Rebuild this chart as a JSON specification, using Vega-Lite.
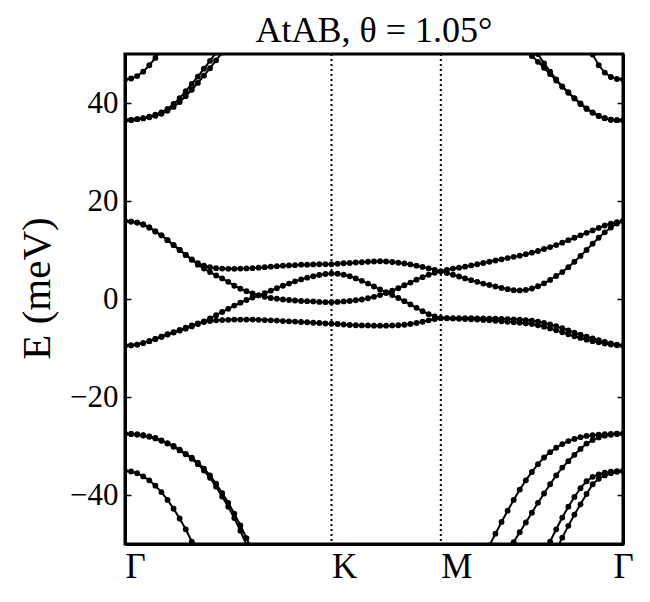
{
"$schema": "https://vega.github.io/schema/vega-lite/v6.json",
"width": 498, "height": 490,
"autosize": {"type": "none"},
"padding": {"left": 125, "top": 54, "right": 27, "bottom": 58},
"background": "white",
"view": {"stroke": "black", "strokeWidth": 3},
"title": {"text": "AtAB, θ = 1.05°", "font": "Liberation Serif", "fontSize": 36, "fontWeight": "normal", "color": "black", "anchor": "middle", "offset": 3},
"config": {"view": {"stroke": "black", "strokeWidth": 3}, "font": "Liberation Serif"},
"datasets": {
"kpts": [{"k": 0, "lab": "Γ"}, {"k": 34, "lab": "K"}, {"k": 52, "lab": "M"}, {"k": 82, "lab": "Γ"}],
"bands": [
{"b":"c1","k":0,"E":15.9},{"b":"c1","k":1,"E":15.8},{"b":"c1","k":2,"E":15.6},{"b":"c1","k":3,"E":15.2},{"b":"c1","k":4,"E":14.6},{"b":"c1","k":5,"E":13.8},{"b":"c1","k":6,"E":13.0},{"b":"c1","k":7,"E":12.0},{"b":"c1","k":8,"E":11.0},{"b":"c1","k":9,"E":10.0},{"b":"c1","k":10,"E":9.0},{"b":"c1","k":11,"E":8.1},{"b":"c1","k":12,"E":7.3},{"b":"c1","k":13,"E":6.8},{"b":"c1","k":14,"E":6.5},{"b":"c1","k":15,"E":6.3},{"b":"c1","k":16,"E":6.2},{"b":"c1","k":17,"E":6.15},{"b":"c1","k":18,"E":6.15},{"b":"c1","k":19,"E":6.2},{"b":"c1","k":20,"E":6.25},{"b":"c1","k":21,"E":6.3},{"b":"c1","k":22,"E":6.4},{"b":"c1","k":23,"E":6.5},{"b":"c1","k":24,"E":6.6},{"b":"c1","k":25,"E":6.7},{"b":"c1","k":26,"E":6.8},{"b":"c1","k":27,"E":6.85},{"b":"c1","k":28,"E":6.9},{"b":"c1","k":29,"E":7.0},{"b":"c1","k":30,"E":7.0},{"b":"c1","k":31,"E":7.05},{"b":"c1","k":32,"E":7.1},{"b":"c1","k":33,"E":7.1},{"b":"c1","k":34,"E":7.1},
{"b":"c1","k":35,"E":7.2},{"b":"c1","k":36,"E":7.3},{"b":"c1","k":37,"E":7.35},{"b":"c1","k":38,"E":7.45},{"b":"c1","k":39,"E":7.5},{"b":"c1","k":40,"E":7.6},{"b":"c1","k":41,"E":7.65},{"b":"c1","k":42,"E":7.7},{"b":"c1","k":43,"E":7.65},{"b":"c1","k":44,"E":7.55},{"b":"c1","k":45,"E":7.4},{"b":"c1","k":46,"E":7.25},{"b":"c1","k":47,"E":7.05},{"b":"c1","k":48,"E":6.8},{"b":"c1","k":49,"E":6.55},{"b":"c1","k":50,"E":6.25},{"b":"c1","k":51,"E":5.95},{"b":"c1","k":52,"E":5.65},
{"b":"c1","k":53,"E":5.3},{"b":"c1","k":54,"E":4.95},{"b":"c1","k":55,"E":4.6},{"b":"c1","k":56,"E":4.2},{"b":"c1","k":57,"E":3.85},{"b":"c1","k":58,"E":3.5},{"b":"c1","k":59,"E":3.15},{"b":"c1","k":60,"E":2.85},{"b":"c1","k":61,"E":2.55},{"b":"c1","k":62,"E":2.25},{"b":"c1","k":63,"E":2.0},{"b":"c1","k":64,"E":1.8},{"b":"c1","k":65,"E":1.75},{"b":"c1","k":66,"E":1.85},{"b":"c1","k":67,"E":2.15},{"b":"c1","k":68,"E":2.6},{"b":"c1","k":69,"E":3.2},{"b":"c1","k":70,"E":3.9},{"b":"c1","k":71,"E":4.7},{"b":"c1","k":72,"E":5.5},{"b":"c1","k":73,"E":6.5},{"b":"c1","k":74,"E":7.6},{"b":"c1","k":75,"E":8.8},{"b":"c1","k":76,"E":10.0},{"b":"c1","k":77,"E":11.3},{"b":"c1","k":78,"E":12.5},{"b":"c1","k":79,"E":13.6},{"b":"c1","k":80,"E":14.6},{"b":"c1","k":81,"E":15.4},{"b":"c1","k":82,"E":15.9},
{"b":"c2","k":0,"E":15.9},{"b":"c2","k":1,"E":15.8},{"b":"c2","k":2,"E":15.6},{"b":"c2","k":3,"E":15.2},{"b":"c2","k":4,"E":14.6},{"b":"c2","k":5,"E":13.8},{"b":"c2","k":6,"E":13.0},{"b":"c2","k":7,"E":12.0},{"b":"c2","k":8,"E":11.0},{"b":"c2","k":9,"E":10.0},{"b":"c2","k":10,"E":9.0},{"b":"c2","k":11,"E":8.0},{"b":"c2","k":12,"E":7.0},{"b":"c2","k":13,"E":6.2},{"b":"c2","k":14,"E":5.5},{"b":"c2","k":15,"E":4.8},{"b":"c2","k":16,"E":4.2},{"b":"c2","k":17,"E":3.5},{"b":"c2","k":18,"E":2.7},{"b":"c2","k":19,"E":2.1},{"b":"c2","k":20,"E":1.6},{"b":"c2","k":21,"E":1.15},{"b":"c2","k":22,"E":0.75},{"b":"c2","k":23,"E":0.45},{"b":"c2","k":24,"E":0.2},{"b":"c2","k":25,"E":0.05},{"b":"c2","k":26,"E":-0.1},{"b":"c2","k":27,"E":-0.2},{"b":"c2","k":28,"E":-0.3},{"b":"c2","k":29,"E":-0.4},{"b":"c2","k":30,"E":-0.45},{"b":"c2","k":31,"E":-0.5},{"b":"c2","k":32,"E":-0.6},{"b":"c2","k":33,"E":-0.65},{"b":"c2","k":34,"E":-0.65},
{"b":"c2","k":35,"E":-0.6},{"b":"c2","k":36,"E":-0.5},{"b":"c2","k":37,"E":-0.4},{"b":"c2","k":38,"E":-0.25},{"b":"c2","k":39,"E":-0.1},{"b":"c2","k":40,"E":0.15},{"b":"c2","k":41,"E":0.45},{"b":"c2","k":42,"E":0.8},{"b":"c2","k":43,"E":1.2},{"b":"c2","k":44,"E":1.7},{"b":"c2","k":45,"E":2.2},{"b":"c2","k":46,"E":2.8},{"b":"c2","k":47,"E":3.35},{"b":"c2","k":48,"E":3.95},{"b":"c2","k":49,"E":4.45},{"b":"c2","k":50,"E":4.95},{"b":"c2","k":51,"E":5.35},{"b":"c2","k":52,"E":5.65},
{"b":"c2","k":53,"E":5.95},{"b":"c2","k":54,"E":6.2},{"b":"c2","k":55,"E":6.4},{"b":"c2","k":56,"E":6.6},{"b":"c2","k":57,"E":6.85},{"b":"c2","k":58,"E":7.1},{"b":"c2","k":59,"E":7.35},{"b":"c2","k":60,"E":7.6},{"b":"c2","k":61,"E":7.85},{"b":"c2","k":62,"E":8.1},{"b":"c2","k":63,"E":8.35},{"b":"c2","k":64,"E":8.6},{"b":"c2","k":65,"E":8.85},{"b":"c2","k":66,"E":9.15},{"b":"c2","k":67,"E":9.45},{"b":"c2","k":68,"E":9.8},{"b":"c2","k":69,"E":10.2},{"b":"c2","k":70,"E":10.6},{"b":"c2","k":71,"E":11.0},{"b":"c2","k":72,"E":11.5},{"b":"c2","k":73,"E":12.0},{"b":"c2","k":74,"E":12.5},{"b":"c2","k":75,"E":13.0},{"b":"c2","k":76,"E":13.5},{"b":"c2","k":77,"E":14.0},{"b":"c2","k":78,"E":14.5},{"b":"c2","k":79,"E":15.0},{"b":"c2","k":80,"E":15.4},{"b":"c2","k":81,"E":15.7},{"b":"c2","k":82,"E":15.9},
{"b":"c3","k":0,"E":-9.5},{"b":"c3","k":1,"E":-9.45},{"b":"c3","k":2,"E":-9.3},{"b":"c3","k":3,"E":-9.0},{"b":"c3","k":4,"E":-8.6},{"b":"c3","k":5,"E":-8.15},{"b":"c3","k":6,"E":-7.7},{"b":"c3","k":7,"E":-7.25},{"b":"c3","k":8,"E":-6.85},{"b":"c3","k":9,"E":-6.45},{"b":"c3","k":10,"E":-6.05},{"b":"c3","k":11,"E":-5.6},{"b":"c3","k":12,"E":-5.1},{"b":"c3","k":13,"E":-4.55},{"b":"c3","k":14,"E":-3.95},{"b":"c3","k":15,"E":-3.3},{"b":"c3","k":16,"E":-2.65},{"b":"c3","k":17,"E":-2.0},{"b":"c3","k":18,"E":-1.35},{"b":"c3","k":19,"E":-0.75},{"b":"c3","k":20,"E":-0.2},{"b":"c3","k":21,"E":0.3},{"b":"c3","k":22,"E":0.75},{"b":"c3","k":23,"E":1.2},{"b":"c3","k":24,"E":1.7},{"b":"c3","k":25,"E":2.2},{"b":"c3","k":26,"E":2.7},{"b":"c3","k":27,"E":3.15},{"b":"c3","k":28,"E":3.6},{"b":"c3","k":29,"E":4.0},{"b":"c3","k":30,"E":4.35},{"b":"c3","k":31,"E":4.65},{"b":"c3","k":32,"E":4.9},{"b":"c3","k":33,"E":5.1},{"b":"c3","k":34,"E":5.2},
{"b":"c3","k":35,"E":5.15},{"b":"c3","k":36,"E":4.95},{"b":"c3","k":37,"E":4.65},{"b":"c3","k":38,"E":4.2},{"b":"c3","k":39,"E":3.7},{"b":"c3","k":40,"E":3.15},{"b":"c3","k":41,"E":2.55},{"b":"c3","k":42,"E":1.95},{"b":"c3","k":43,"E":1.4},{"b":"c3","k":44,"E":0.8},{"b":"c3","k":45,"E":0.2},{"b":"c3","k":46,"E":-0.45},{"b":"c3","k":47,"E":-1.1},{"b":"c3","k":48,"E":-1.8},{"b":"c3","k":49,"E":-2.5},{"b":"c3","k":50,"E":-3.1},{"b":"c3","k":51,"E":-3.55},{"b":"c3","k":52,"E":-3.9},
{"b":"c3","k":53,"E":-3.9},{"b":"c3","k":54,"E":-3.9},{"b":"c3","k":55,"E":-3.9},{"b":"c3","k":56,"E":-3.9},{"b":"c3","k":57,"E":-3.9},{"b":"c3","k":58,"E":-3.95},{"b":"c3","k":59,"E":-3.95},{"b":"c3","k":60,"E":-4.0},{"b":"c3","k":61,"E":-4.0},{"b":"c3","k":62,"E":-4.05},{"b":"c3","k":63,"E":-4.1},{"b":"c3","k":64,"E":-4.15},{"b":"c3","k":65,"E":-4.2},{"b":"c3","k":66,"E":-4.3},{"b":"c3","k":67,"E":-4.4},{"b":"c3","k":68,"E":-4.6},{"b":"c3","k":69,"E":-4.9},{"b":"c3","k":70,"E":-5.2},{"b":"c3","k":71,"E":-5.55},{"b":"c3","k":72,"E":-5.95},{"b":"c3","k":73,"E":-6.4},{"b":"c3","k":74,"E":-6.85},{"b":"c3","k":75,"E":-7.3},{"b":"c3","k":76,"E":-7.7},{"b":"c3","k":77,"E":-8.05},{"b":"c3","k":78,"E":-8.4},{"b":"c3","k":79,"E":-8.75},{"b":"c3","k":80,"E":-9.05},{"b":"c3","k":81,"E":-9.3},{"b":"c3","k":82,"E":-9.5},
{"b":"c4","k":0,"E":-9.5},{"b":"c4","k":1,"E":-9.45},{"b":"c4","k":2,"E":-9.3},{"b":"c4","k":3,"E":-9.0},{"b":"c4","k":4,"E":-8.6},{"b":"c4","k":5,"E":-8.15},{"b":"c4","k":6,"E":-7.7},{"b":"c4","k":7,"E":-7.2},{"b":"c4","k":8,"E":-6.75},{"b":"c4","k":9,"E":-6.3},{"b":"c4","k":10,"E":-5.85},{"b":"c4","k":11,"E":-5.4},{"b":"c4","k":12,"E":-5.0},{"b":"c4","k":13,"E":-4.7},{"b":"c4","k":14,"E":-4.5},{"b":"c4","k":15,"E":-4.35},{"b":"c4","k":16,"E":-4.3},{"b":"c4","k":17,"E":-4.25},{"b":"c4","k":18,"E":-4.2},{"b":"c4","k":19,"E":-4.2},{"b":"c4","k":20,"E":-4.2},{"b":"c4","k":21,"E":-4.2},{"b":"c4","k":22,"E":-4.25},{"b":"c4","k":23,"E":-4.3},{"b":"c4","k":24,"E":-4.35},{"b":"c4","k":25,"E":-4.4},{"b":"c4","k":26,"E":-4.5},{"b":"c4","k":27,"E":-4.55},{"b":"c4","k":28,"E":-4.6},{"b":"c4","k":29,"E":-4.7},{"b":"c4","k":30,"E":-4.75},{"b":"c4","k":31,"E":-4.85},{"b":"c4","k":32,"E":-4.9},{"b":"c4","k":33,"E":-5.0},{"b":"c4","k":34,"E":-5.05},
{"b":"c4","k":35,"E":-5.1},{"b":"c4","k":36,"E":-5.2},{"b":"c4","k":37,"E":-5.3},{"b":"c4","k":38,"E":-5.35},{"b":"c4","k":39,"E":-5.4},{"b":"c4","k":40,"E":-5.4},{"b":"c4","k":41,"E":-5.45},{"b":"c4","k":42,"E":-5.45},{"b":"c4","k":43,"E":-5.45},{"b":"c4","k":44,"E":-5.4},{"b":"c4","k":45,"E":-5.35},{"b":"c4","k":46,"E":-5.25},{"b":"c4","k":47,"E":-5.1},{"b":"c4","k":48,"E":-4.9},{"b":"c4","k":49,"E":-4.65},{"b":"c4","k":50,"E":-4.35},{"b":"c4","k":51,"E":-4.1},{"b":"c4","k":52,"E":-3.9},
{"b":"c4","k":53,"E":-3.95},{"b":"c4","k":54,"E":-4.0},{"b":"c4","k":55,"E":-4.05},{"b":"c4","k":56,"E":-4.1},{"b":"c4","k":57,"E":-4.15},{"b":"c4","k":58,"E":-4.2},{"b":"c4","k":59,"E":-4.3},{"b":"c4","k":60,"E":-4.35},{"b":"c4","k":61,"E":-4.45},{"b":"c4","k":62,"E":-4.55},{"b":"c4","k":63,"E":-4.65},{"b":"c4","k":64,"E":-4.75},{"b":"c4","k":65,"E":-4.85},{"b":"c4","k":66,"E":-4.95},{"b":"c4","k":67,"E":-5.1},{"b":"c4","k":68,"E":-5.35},{"b":"c4","k":69,"E":-5.65},{"b":"c4","k":70,"E":-6.0},{"b":"c4","k":71,"E":-6.4},{"b":"c4","k":72,"E":-6.8},{"b":"c4","k":73,"E":-7.2},{"b":"c4","k":74,"E":-7.6},{"b":"c4","k":75,"E":-7.95},{"b":"c4","k":76,"E":-8.3},{"b":"c4","k":77,"E":-8.6},{"b":"c4","k":78,"E":-8.85},{"b":"c4","k":79,"E":-9.1},{"b":"c4","k":80,"E":-9.3},{"b":"c4","k":81,"E":-9.45},{"b":"c4","k":82,"E":-9.5},
{"b":"u1a","k":0,"E":36.5},{"b":"u1a","k":1,"E":36.55},{"b":"u1a","k":2,"E":36.7},{"b":"u1a","k":3,"E":36.9},{"b":"u1a","k":4,"E":37.2},{"b":"u1a","k":5,"E":37.6},{"b":"u1a","k":6,"E":38.1},{"b":"u1a","k":7,"E":38.8},{"b":"u1a","k":8,"E":39.8},{"b":"u1a","k":9,"E":41.0},{"b":"u1a","k":10,"E":42.4},{"b":"u1a","k":11,"E":43.9},{"b":"u1a","k":12,"E":45.4},{"b":"u1a","k":13,"E":47.0},{"b":"u1a","k":14,"E":48.6},{"b":"u1a","k":15,"E":50.3},{"b":"u1a","k":16,"E":52.0},
{"b":"u1b","k":0,"E":36.5},{"b":"u1b","k":1,"E":36.55},{"b":"u1b","k":2,"E":36.7},{"b":"u1b","k":3,"E":36.85},{"b":"u1b","k":4,"E":37.1},{"b":"u1b","k":5,"E":37.4},{"b":"u1b","k":6,"E":37.8},{"b":"u1b","k":7,"E":38.4},{"b":"u1b","k":8,"E":39.2},{"b":"u1b","k":9,"E":40.2},{"b":"u1b","k":10,"E":41.4},{"b":"u1b","k":11,"E":42.7},{"b":"u1b","k":12,"E":44.1},{"b":"u1b","k":13,"E":45.6},{"b":"u1b","k":14,"E":47.1},{"b":"u1b","k":15,"E":48.7},{"b":"u1b","k":16,"E":50.3},{"b":"u1b","k":17,"E":52.0},
{"b":"u2l","k":0,"E":44.8},{"b":"u2l","k":1,"E":45.0},{"b":"u2l","k":2,"E":45.5},{"b":"u2l","k":3,"E":46.4},{"b":"u2l","k":4,"E":47.7},{"b":"u2l","k":5,"E":49.2},{"b":"u2l","k":6,"E":50.8},
{"b":"u1c","k":67,"E":51.9},{"b":"u1c","k":68,"E":50.0},{"b":"u1c","k":69,"E":48.1},{"b":"u1c","k":70,"E":46.4},{"b":"u1c","k":71,"E":44.8},{"b":"u1c","k":72,"E":43.4},{"b":"u1c","k":73,"E":42.2},{"b":"u1c","k":74,"E":41.0},{"b":"u1c","k":75,"E":39.9},{"b":"u1c","k":76,"E":38.9},{"b":"u1c","k":77,"E":38.1},{"b":"u1c","k":78,"E":37.4},{"b":"u1c","k":79,"E":36.9},{"b":"u1c","k":80,"E":36.6},{"b":"u1c","k":81,"E":36.5},{"b":"u1c","k":82,"E":36.5},
{"b":"u1d","k":66,"E":50.8},{"b":"u1d","k":67,"E":49.6},{"b":"u1d","k":68,"E":48.4},{"b":"u1d","k":69,"E":47.2},{"b":"u1d","k":70,"E":45.9},{"b":"u1d","k":71,"E":44.6},{"b":"u1d","k":72,"E":43.3},{"b":"u1d","k":73,"E":42.1},{"b":"u1d","k":74,"E":40.9},{"b":"u1d","k":75,"E":39.8},{"b":"u1d","k":76,"E":38.8},{"b":"u1d","k":77,"E":38.0},{"b":"u1d","k":78,"E":37.35},{"b":"u1d","k":79,"E":36.9},{"b":"u1d","k":80,"E":36.6},{"b":"u1d","k":81,"E":36.5},{"b":"u1d","k":82,"E":36.5},
{"b":"u2r","k":76,"E":52.0},{"b":"u2r","k":77,"E":49.9},{"b":"u2r","k":78,"E":47.7},{"b":"u2r","k":79,"E":46.2},{"b":"u2r","k":80,"E":45.3},{"b":"u2r","k":81,"E":44.9},{"b":"u2r","k":82,"E":44.8},
{"b":"l1a","k":0,"E":-27.5},{"b":"l1a","k":1,"E":-27.55},{"b":"l1a","k":2,"E":-27.65},{"b":"l1a","k":3,"E":-27.85},{"b":"l1a","k":4,"E":-28.1},{"b":"l1a","k":5,"E":-28.45},{"b":"l1a","k":6,"E":-28.95},{"b":"l1a","k":7,"E":-29.5},{"b":"l1a","k":8,"E":-30.15},{"b":"l1a","k":9,"E":-30.9},{"b":"l1a","k":10,"E":-31.7},{"b":"l1a","k":11,"E":-32.6},{"b":"l1a","k":12,"E":-33.7},{"b":"l1a","k":13,"E":-35.0},{"b":"l1a","k":14,"E":-36.5},{"b":"l1a","k":15,"E":-38.3},{"b":"l1a","k":16,"E":-40.3},{"b":"l1a","k":17,"E":-42.4},{"b":"l1a","k":18,"E":-44.7},{"b":"l1a","k":19,"E":-47.3},{"b":"l1a","k":20,"E":-50.2},{"b":"l1a","k":21,"E":-53.0},
{"b":"l1b","k":0,"E":-27.5},{"b":"l1b","k":1,"E":-27.55},{"b":"l1b","k":2,"E":-27.65},{"b":"l1b","k":3,"E":-27.8},{"b":"l1b","k":4,"E":-28.05},{"b":"l1b","k":5,"E":-28.35},{"b":"l1b","k":6,"E":-28.85},{"b":"l1b","k":7,"E":-29.4},{"b":"l1b","k":8,"E":-30.0},{"b":"l1b","k":9,"E":-30.75},{"b":"l1b","k":10,"E":-31.6},{"b":"l1b","k":11,"E":-32.4},{"b":"l1b","k":12,"E":-33.4},{"b":"l1b","k":13,"E":-34.6},{"b":"l1b","k":14,"E":-36.0},{"b":"l1b","k":15,"E":-37.7},{"b":"l1b","k":16,"E":-39.6},{"b":"l1b","k":17,"E":-41.6},{"b":"l1b","k":18,"E":-43.8},{"b":"l1b","k":19,"E":-46.2},{"b":"l1b","k":20,"E":-48.8},{"b":"l1b","k":21,"E":-51.5},
{"b":"l2l","k":0,"E":-35.1},{"b":"l2l","k":1,"E":-35.2},{"b":"l2l","k":2,"E":-35.55},{"b":"l2l","k":3,"E":-36.2},{"b":"l2l","k":4,"E":-37.0},{"b":"l2l","k":5,"E":-38.1},{"b":"l2l","k":6,"E":-39.4},{"b":"l2l","k":7,"E":-41.0},{"b":"l2l","k":8,"E":-42.8},{"b":"l2l","k":9,"E":-44.8},{"b":"l2l","k":10,"E":-47.0},{"b":"l2l","k":11,"E":-49.5},{"b":"l2l","k":12,"E":-52.2},
{"b":"l1c","k":59,"E":-52.8},{"b":"l1c","k":60,"E":-50.3},{"b":"l1c","k":61,"E":-47.9},{"b":"l1c","k":62,"E":-45.5},{"b":"l1c","k":63,"E":-43.2},{"b":"l1c","k":64,"E":-41.0},{"b":"l1c","k":65,"E":-38.9},{"b":"l1c","k":66,"E":-37.0},{"b":"l1c","k":67,"E":-35.3},{"b":"l1c","k":68,"E":-33.7},{"b":"l1c","k":69,"E":-32.35},{"b":"l1c","k":70,"E":-31.25},{"b":"l1c","k":71,"E":-30.35},{"b":"l1c","k":72,"E":-29.6},{"b":"l1c","k":73,"E":-29.0},{"b":"l1c","k":74,"E":-28.55},{"b":"l1c","k":75,"E":-28.2},{"b":"l1c","k":76,"E":-27.95},{"b":"l1c","k":77,"E":-27.8},{"b":"l1c","k":78,"E":-27.7},{"b":"l1c","k":79,"E":-27.6},{"b":"l1c","k":80,"E":-27.55},{"b":"l1c","k":81,"E":-27.5},{"b":"l1c","k":82,"E":-27.5},
{"b":"l1d","k":63,"E":-51.6},{"b":"l1d","k":64,"E":-49.6},{"b":"l1d","k":65,"E":-47.6},{"b":"l1d","k":66,"E":-45.6},{"b":"l1d","k":67,"E":-43.6},{"b":"l1d","k":68,"E":-41.6},{"b":"l1d","k":69,"E":-39.7},{"b":"l1d","k":70,"E":-37.8},{"b":"l1d","k":71,"E":-36.0},{"b":"l1d","k":72,"E":-34.4},{"b":"l1d","k":73,"E":-33.1},{"b":"l1d","k":74,"E":-31.8},{"b":"l1d","k":75,"E":-30.6},{"b":"l1d","k":76,"E":-29.5},{"b":"l1d","k":77,"E":-28.8},{"b":"l1d","k":78,"E":-28.25},{"b":"l1d","k":79,"E":-27.9},{"b":"l1d","k":80,"E":-27.7},{"b":"l1d","k":81,"E":-27.55},{"b":"l1d","k":82,"E":-27.5},
{"b":"l2c","k":69,"E":-52.0},{"b":"l2c","k":70,"E":-49.5},{"b":"l2c","k":71,"E":-47.0},{"b":"l2c","k":72,"E":-44.6},{"b":"l2c","k":73,"E":-42.4},{"b":"l2c","k":74,"E":-40.4},{"b":"l2c","k":75,"E":-38.6},{"b":"l2c","k":76,"E":-37.2},{"b":"l2c","k":77,"E":-36.3},{"b":"l2c","k":78,"E":-35.8},{"b":"l2c","k":79,"E":-35.45},{"b":"l2c","k":80,"E":-35.25},{"b":"l2c","k":81,"E":-35.15},{"b":"l2c","k":82,"E":-35.1},
{"b":"l2d","k":71,"E":-51.2},{"b":"l2d","k":72,"E":-48.7},{"b":"l2d","k":73,"E":-46.3},{"b":"l2d","k":74,"E":-44.0},{"b":"l2d","k":75,"E":-41.9},{"b":"l2d","k":76,"E":-39.8},{"b":"l2d","k":77,"E":-37.8},{"b":"l2d","k":78,"E":-36.7},{"b":"l2d","k":79,"E":-36.0},{"b":"l2d","k":80,"E":-35.55},{"b":"l2d","k":81,"E":-35.25},{"b":"l2d","k":82,"E":-35.1}
]
},
"layer": [
{"data": {"name": "kpts"},
 "mark": {"type": "rule", "color": "black", "strokeWidth": 2, "strokeDash": [2, 3]},
 "encoding": {"x": {"field": "k", "type": "quantitative", "scale": {"domain": [0, 82], "nice": false, "zero": false},
   "axis": {"values": [0, 34, 52, 82], "labelExpr": "datum.value == 34 ? 'K' : datum.value == 52 ? 'M' : 'Γ'", "ticks": false, "domain": true, "domainColor": "black", "domainWidth": 3, "grid": false, "title": null, "labelFont": "Liberation Serif", "labelFontSize": 35, "labelColor": "black", "labelPadding": 5, "labelFlush": false, "labelAlign": {"condition": {"test": "datum.value == 82", "value": "center"}, "value": "left"}}}}},
{"data": {"name": "bands"},
 "mark": {"type": "line", "color": "black", "strokeWidth": 2, "clip": true},
 "encoding": {"x": {"field": "k", "type": "quantitative"},
   "y": {"field": "E", "type": "quantitative", "scale": {"domain": [-50, 50], "nice": false, "zero": false},
     "axis": {"orient": "left", "values": [-40, -20, 0, 20, 40], "grid": false, "domain": true, "domainColor": "black", "domainWidth": 3, "tickSize": -6, "tickWidth": 1.5, "tickColor": "black", "labelFont": "Liberation Serif", "labelFontSize": 31, "labelColor": "black", "labelPadding": 13, "title": "E (meV)", "titleFont": "Liberation Serif", "titleFontSize": 41, "titleFontWeight": "normal", "titleColor": "black", "titleX": -88, "titleY": 234, "titleBaseline": "middle", "titleAngle": -90}},
   "detail": {"field": "b", "type": "nominal"}}},
{"data": {"name": "bands"},
 "mark": {"type": "circle", "color": "black", "opacity": 1, "size": 34, "clip": true},
 "encoding": {"x": {"field": "k", "type": "quantitative"},
   "y": {"field": "E", "type": "quantitative", "scale": {"domain": [-50, 50], "nice": false, "zero": false},
     "axis": {"orient": "right", "values": [-40, -20, 0, 20, 40], "grid": false, "domain": true, "domainColor": "black", "domainWidth": 3, "labels": false, "title": null, "tickSize": -6, "tickWidth": 1.5, "tickColor": "black"}}}}
],
"resolve": {"axis": {"y": "independent"}}
}
